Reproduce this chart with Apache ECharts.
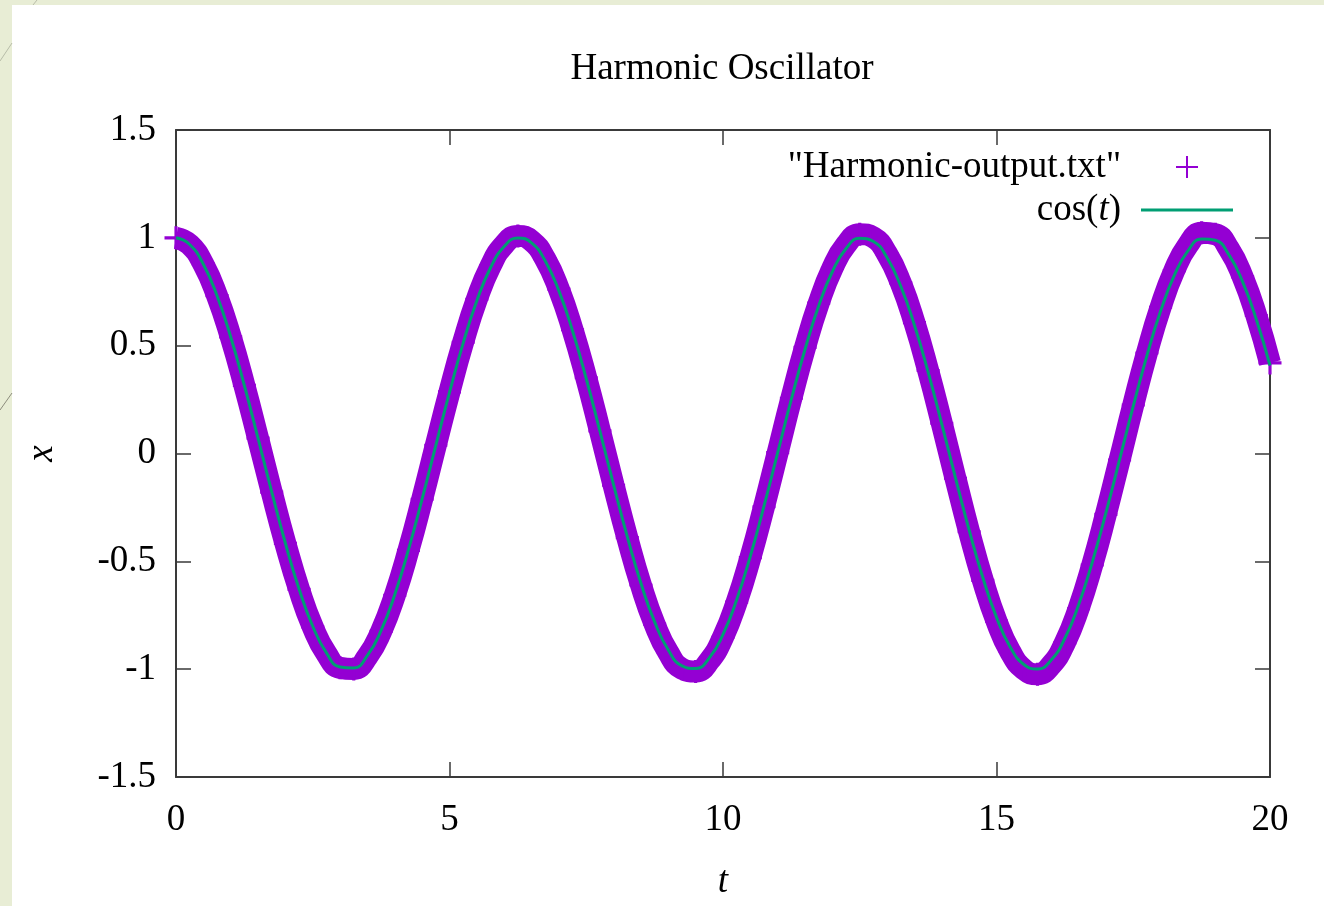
<!DOCTYPE html>
<html>
<head>
<meta charset="utf-8">
<title>Harmonic Oscillator</title>
<script src="https://cdn.jsdelivr.net/npm/echarts@6/dist/echarts.min.js"></script>
<style>
    html, body { margin: 0; padding: 0; }
    #harmonic_chart { width: 1324px; height: 906px; }
</style>
</head>
<body>
<div id="harmonic_chart"></div>
<script>
// 时间轴 t
var t_values = [
    0, 0.25, 0.5, 0.75, 1, 1.25, 1.5, 1.75, 2, 2.25, 2.5, 2.75, 3, 3.25, 3.5, 3.75,
    4, 4.25, 4.5, 4.75, 5, 5.25, 5.5, 5.75, 6, 6.25, 6.5, 6.75, 7, 7.25, 7.5, 7.75,
    8, 8.25, 8.5, 8.75, 9, 9.25, 9.5, 9.75, 10, 10.25, 10.5, 10.75, 11, 11.25, 11.5, 11.75,
    12, 12.25, 12.5, 12.75, 13, 13.25, 13.5, 13.75, 14, 14.25, 14.5, 14.75, 15, 15.25, 15.5, 15.75,
    16, 16.25, 16.5, 16.75, 17, 17.25, 17.5, 17.75, 18, 18.25, 18.5, 18.75, 19, 19.25, 19.5, 19.75, 20
];
// "Harmonic-output.txt" 数值解 (振幅略有增长)
var x_output = [
    1.000, 0.969, 0.878, 0.732, 0.541, 0.316, 0.071, -0.179, -0.417, -0.630, -0.804, -0.928, -0.994, -0.999, -0.941, -0.825,
    -0.658, -0.449, -0.212, 0.038, 0.286, 0.516, 0.715, 0.869, 0.969, 1.009, 0.986, 0.902, 0.762, 0.574, 0.351, 0.105,
    -0.147, -0.390, -0.610, -0.791, -0.923, -0.998, -1.011, -0.961, -0.852, -0.689, -0.483, -0.247, 0.004, 0.256, 0.492, 0.697,
    0.859, 0.968, 1.017, 1.002, 0.925, 0.791, 0.607, 0.385, 0.140, -0.115, -0.363, -0.588, -0.777, -0.918, -1.001, -1.023,
    -0.981, -0.878, -0.720, -0.517, -0.282, -0.030, 0.225, 0.466, 0.678, 0.848, 0.966, 1.023, 1.017, 0.948, 0.819, 0.640, 0.420
];
// cos(t) 解析解
var x_cos = [
    1.0000, 0.9689, 0.8776, 0.7317, 0.5403, 0.3153, 0.0707, -0.1782, -0.4161, -0.6282, -0.8011, -0.9243, -0.9900, -0.9941, -0.9365, -0.8206,
    -0.6536, -0.4461, -0.2108, 0.0376, 0.2837, 0.5121, 0.7087, 0.8612, 0.9602, 0.9995, 0.9766, 0.8930, 0.7539, 0.5679, 0.3466, 0.1038,
    -0.1455, -0.3857, -0.6020, -0.7808, -0.9111, -0.9848, -0.9972, -0.9476, -0.8391, -0.6784, -0.4755, -0.2431, 0.0044, 0.2517, 0.4833, 0.6849,
    0.8439, 0.9504, 0.9978, 0.9832, 0.9074, 0.7753, 0.5949, 0.3776, 0.1367, -0.1126, -0.3549, -0.5752, -0.7597, -0.8970, -0.9785, -0.9991,
    -0.9577, -0.8567, -0.7024, -0.5045, -0.2752, -0.0288, 0.2194, 0.4540, 0.6603, 0.8256, 0.9395, 0.9951, 0.9887, 0.9209, 0.7958, 0.6213, 0.4081
];
// 刻度
var x_ticks = [0, 5, 10, 15, 20];
var y_ticks = [-1.5, -1, -0.5, 0, 0.5, 1, 1.5];

var harmonic_chart_utils = (function () {
    var initHarmonicChart;

    initHarmonicChart = function (options) {
        // 1. 定义变量
        var my_chart,
            font_family = "'Liberation Serif', 'DejaVu Serif', serif",
            plus_path = "path://M9.5,0h3v9.5h9.5v3h-9.5v9.5h-3v-9.5h-9.5v-3h9.5z",
            plus_thin = "path://M10,0h2v10h10v2h-10v10h-2v-10h-10v-2h10z",
            axis_color = "#3a3a3a",
            data_name = '"Harmonic-output.txt"',
            cos_name = "cos(t)";

        my_chart = echarts.init(options.wrap_obj, null, {renderer: "canvas"});

        var output_data = t_values.map(function (t, i) { return [t, x_output[i]]; });
        var cos_data = t_values.map(function (t, i) { return [t, x_cos[i]]; });

        // 坐标轴公共配置
        var axisBase = function (ticks, extra) {
            var o = {
                type: "value",
                min: ticks[0],
                max: ticks[ticks.length - 1],
                interval: ticks[1] - ticks[0],
                splitLine: {show: false},
                axisLine: {show: true, onZero: false, lineStyle: {color: axis_color, width: 2}},
                axisTick: {show: true, inside: true, length: 15, lineStyle: {color: axis_color, width: 1.5}},
                axisLabel: {show: false}
            };
            return Object.assign(o, extra);
        };

        var option = {
            animation: false,
            backgroundColor: "#e8edd5",
            graphic: [
                {type: "rect", z: -10, shape: {x: 12, y: 5, width: 1312, height: 901}, style: {fill: "#ffffff"}},
                {type: "line", z: -5, shape: {x1: 0, y1: 410, x2: 12, y2: 393}, style: {stroke: "#8c8c7c", lineWidth: 1}},
                {type: "line", z: -5, shape: {x1: 0, y1: 61, x2: 12, y2: 43}, style: {stroke: "#b8bca8", lineWidth: 1}},
                {type: "line", z: -5, shape: {x1: 33, y1: 5, x2: 37, y2: 0}, style: {stroke: "#b8bca8", lineWidth: 1}}
            ],
            title: {
                text: "Harmonic Oscillator",
                left: 722,
                top: 51,
                textAlign: "center",
                padding: 0,
                textStyle: {fontFamily: font_family, fontSize: 37, fontWeight: "normal", color: "#000"}
            },
            legend: [
                {
                    data: [{name: data_name, icon: plus_thin}],
                    orient: "vertical",
                    align: "right",
                    right: 126,
                    top: 147,
                    padding: 0,
                    itemWidth: 22,
                    itemHeight: 22,
                    selectedMode: false,
                    textStyle: {fontFamily: font_family, fontSize: 37, color: "#000", lineHeight: 40, padding: [0, 50, 0, 0]}
                },
                {
                    data: [{name: cos_name, icon: "rect"}],
                    orient: "vertical",
                    align: "right",
                    right: 91,
                    top: 190,
                    padding: 0,
                    itemWidth: 92,
                    itemHeight: 3,
                    selectedMode: false,
                    formatter: function () { return "{n|cos(}{i|t}{n|)}"; },
                    textStyle: {
                        fontFamily: font_family, fontSize: 37, color: "#000", lineHeight: 40, padding: [0, 15, 0, 0],
                        rich: {
                            n: {fontFamily: font_family, fontSize: 37, color: "#000", lineHeight: 40},
                            i: {fontFamily: font_family, fontSize: 37, color: "#000", lineHeight: 40, fontStyle: "italic"}
                        }
                    }
                }
            ],
            grid: {left: 176, right: 54, top: 130, bottom: 129, containLabel: false},
            xAxis: [
                axisBase(x_ticks, {
                    position: "bottom",
                    name: "t",
                    nameLocation: "middle",
                    nameGap: 87,
                    nameTextStyle: {fontFamily: font_family, fontSize: 37, fontStyle: "italic", color: "#000"},
                    axisLabel: {show: true, margin: 25, fontFamily: font_family, fontSize: 37, color: "#000"}
                }),
                axisBase(x_ticks, {position: "top"})
            ],
            yAxis: [
                axisBase(y_ticks, {
                    position: "left",
                    name: "x",
                    nameLocation: "middle",
                    nameGap: 115,
                    nameTextStyle: {fontFamily: font_family, fontSize: 37, fontStyle: "italic", color: "#000"},
                    axisLabel: {show: true, margin: 20, fontFamily: font_family, fontSize: 37, color: "#000", padding: [4, 0, 0, 0]}
                }),
                axisBase(y_ticks, {position: "right"})
            ],
            series: [
                {
                    name: data_name,
                    type: "line",
                    data: output_data,
                    smooth: true,
                    clip: false,
                    symbol: plus_path,
                    symbolSize: 23,
                    showSymbol: true,
                    showAllSymbol: true,
                    itemStyle: {color: "#9400d3"},
                    lineStyle: {color: "#9400d3", width: 22},
                    emphasis: {disabled: true},
                    z: 2
                },
                {
                    name: cos_name,
                    type: "line",
                    data: cos_data,
                    smooth: true,
                    symbol: "none",
                    itemStyle: {color: "#009e73"},
                    lineStyle: {color: "#009e73", width: 3},
                    emphasis: {disabled: true},
                    z: 3
                }
            ]
        };

        my_chart.setOption(option);
    };

    return {
        initHarmonicChart: initHarmonicChart
    };
})();

harmonic_chart_utils.initHarmonicChart({wrap_obj: document.getElementById("harmonic_chart")});
</script>
</body>
</html>
